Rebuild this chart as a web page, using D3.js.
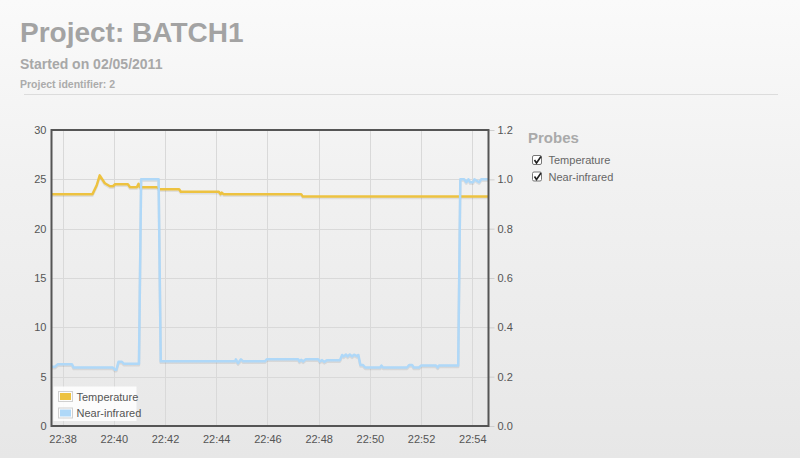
<!DOCTYPE html>
<html>
<head>
<meta charset="utf-8">
<script src="https://cdn.jsdelivr.net/npm/d3@7"></script>
<style>
  html, body { margin: 0; padding: 0; }
  body { width: 800px; height: 458px; overflow: hidden;
         background: linear-gradient(#fafafa 0%, #f1f1f1 40%, #e7e7e7 100%);
         font-family: "Helvetica Neue", Helvetica, Arial, "Liberation Sans", sans-serif; }
  svg { display: block; }
</style>
</head>
<body>
<svg id="chart" width="800" height="458"></svg>
<script>
// ---------- data ----------
const title = "Project: BATCH1";
const subtitle = "Started on 02/05/2011";
const identifier = "Project identifier: 2";
const seriesNames = ["Temperature", "Near-infrared"];
const seriesColors = ["#edc240", "#afd8f8"];

const timeDomain = ["22:37:34", "22:54:38"];
const leftTicks = [0, 5, 10, 15, 20, 25, 30];
const rightTicks = [0.0, 0.2, 0.4, 0.6, 0.8, 1.0, 1.2];

const temperatureTimes = ["22:37:34","22:39:10","22:39:20","22:39:27","22:39:39","22:39:51","22:39:58","22:40:03","22:40:33","22:40:38","22:40:54","22:40:58","22:41:01","22:41:41","22:41:48","22:42:33","22:42:37","22:44:06","22:44:10","22:44:13","22:44:17","22:47:19","22:47:23","22:54:38"];
const temperatureValues = [23.5,23.5,24.4,25.4,24.6,24.3,24.3,24.5,24.5,24.2,24.2,24.55,24.2,24.2,24.0,24.0,23.75,23.75,23.5,23.65,23.5,23.5,23.25,23.25];

const nirTimes = ["22:37:34","22:37:42","22:37:49","22:38:22","22:38:26","22:39:58","22:40:03","22:40:06","22:40:11","22:40:19","22:40:24","22:40:59","22:41:04","22:41:45","22:41:50","22:44:44","22:44:46","22:44:51","22:44:58","22:45:03","22:45:54","22:45:59","22:47:12","22:47:15","22:47:19","22:47:24","22:47:30","22:47:59","22:48:03","22:48:08","22:48:13","22:48:20","22:48:50","22:48:55","22:48:59","22:49:04","22:49:08","22:49:13","22:49:18","22:49:23","22:49:30","22:49:33","22:49:38","22:49:44","22:49:49","22:49:54","22:50:24","22:50:27","22:50:31","22:51:27","22:51:32","22:51:39","22:51:43","22:51:55","22:52:00","22:52:35","22:52:39","22:52:42","22:53:27","22:53:32","22:53:41","22:53:46","22:53:51","22:53:55","22:54:02","22:54:05","22:54:16","22:54:21","22:54:38"];
const nirValues = [0.24,0.24,0.25,0.25,0.237,0.237,0.228,0.228,0.26,0.26,0.252,0.252,1.0,1.0,0.262,0.262,0.27,0.255,0.27,0.262,0.262,0.271,0.271,0.262,0.268,0.262,0.271,0.271,0.262,0.267,0.26,0.267,0.267,0.288,0.282,0.29,0.282,0.29,0.282,0.289,0.283,0.288,0.247,0.247,0.237,0.237,0.237,0.245,0.237,0.237,0.247,0.247,0.237,0.237,0.245,0.245,0.237,0.245,0.245,1.0,1.0,0.988,1.0,0.988,0.988,1.0,0.988,1.0,1.0];

// ---------- layout ----------
const svg = d3.select("#chart");
const font = '"Helvetica Neue", Helvetica, Arial, "Liberation Sans", sans-serif';
const plot = { left: 51.5, top: 130, right: 488.5, bottom: 426 };
const parseT = s => { const [h, m, sec] = s.split(":").map(Number); return new Date(Date.UTC(2011, 4, 2, h, m, sec)); };

const x = d3.scaleUtc().domain(timeDomain.map(parseT)).range([plot.left, plot.right]);
const yL = d3.scaleLinear().domain([0, 30]).range([plot.bottom, plot.top]);
const yR = d3.scaleLinear().domain([0, 1.2]).range([plot.bottom, plot.top]);

// ---------- header ----------
svg.append("text").attr("x", 20).attr("y", 42).attr("font-family", font).attr("font-weight", "bold")
  .attr("font-size", 28).attr("fill", "#a3a3a3").text(title);
svg.append("text").attr("x", 20).attr("y", 68.5).attr("font-family", font).attr("font-weight", "bold")
  .attr("font-size", 14).attr("fill", "#a8a8a8").text(subtitle);
svg.append("text").attr("x", 20).attr("y", 87.5).attr("font-family", font).attr("font-weight", "bold")
  .attr("font-size", 10.5).attr("fill", "#ababab").text(identifier);
svg.append("line").attr("x1", 24).attr("x2", 778).attr("y1", 94.5).attr("y2", 94.5)
  .attr("stroke", "#dcdcdc").attr("stroke-width", 1);

// ---------- grid ----------
const timeTicks = d3.utcMinute.every(2).range(parseT("22:38:00"), parseT("22:55:00"));
const grid = svg.append("g");
grid.selectAll(".vg").data(timeTicks).join("line")
  .attr("x1", d => Math.round(x(d)) + 0.5).attr("x2", d => Math.round(x(d)) + 0.5)
  .attr("y1", plot.top).attr("y2", plot.bottom).attr("stroke", "#d9d9d9");
grid.selectAll(".hg").data(leftTicks).join("line")
  .attr("x1", plot.left).attr("x2", plot.right)
  .attr("y1", d => Math.round(yL(d)) + 0.5).attr("y2", d => Math.round(yL(d)) + 0.5).attr("stroke", "#d9d9d9");

// ---------- axes ----------
const axisStyle = g => {
  g.select(".domain").remove();
  g.selectAll("text").attr("font-family", font).attr("font-size", 11).attr("fill", "#555");
};
svg.append("g").attr("transform", `translate(0,${plot.bottom})`)
  .call(d3.axisBottom(x).tickValues(timeTicks).tickFormat(d3.utcFormat("%H:%M")).tickSize(0).tickPadding(9))
  .call(axisStyle);
svg.append("g").attr("transform", `translate(${plot.left},0)`)
  .call(d3.axisLeft(yL).tickValues(leftTicks).tickFormat(d3.format("d")).tickSize(0).tickPadding(5))
  .call(axisStyle);
svg.append("g").attr("transform", `translate(${plot.right},0)`)
  .call(d3.axisRight(yR).tickValues(rightTicks).tickFormat(d3.format(".1f")).tickSize(6).tickPadding(3))
  .call(axisStyle)
  .call(g => g.selectAll("line").attr("stroke", "#cfcfcf"));

// ---------- lines ----------
svg.append("clipPath").attr("id", "clip").append("rect")
  .attr("x", plot.left).attr("y", plot.top).attr("width", plot.right - plot.left).attr("height", plot.bottom - plot.top);
const lines = svg.append("g").attr("clip-path", "url(#clip)");

const tempData = temperatureTimes.map((t, i) => ({ t: parseT(t), v: temperatureValues[i] }));
const nirData = nirTimes.map((t, i) => ({ t: parseT(t), v: nirValues[i] }));
const lineL = d3.line().x(d => x(d.t)).y(d => yL(d.v));
const lineR = d3.line().x(d => x(d.t)).y(d => yR(d.v));

[[tempData, lineL, seriesColors[0]], [nirData, lineR, seriesColors[1]]].forEach(([data, gen, col]) => {
  lines.append("path").datum(data).attr("d", gen).attr("fill", "none")
    .attr("stroke", "rgba(0,0,0,0.08)").attr("stroke-width", 2.5).attr("transform", "translate(0,1.5)")
    .attr("stroke-linejoin", "round");
  lines.append("path").datum(data).attr("d", gen).attr("fill", "none")
    .attr("stroke", col).attr("stroke-width", 2.5).attr("stroke-linejoin", "round");
});

// ---------- border ----------
svg.append("rect").attr("x", plot.left).attr("y", plot.top)
  .attr("width", plot.right - plot.left).attr("height", plot.bottom - plot.top)
  .attr("fill", "none").attr("stroke", "#555").attr("stroke-width", 2);

// ---------- in-plot legend ----------
const leg = svg.append("g");
leg.append("rect").attr("x", 53.5).attr("y", 386.5).attr("width", 83).attr("height", 34.5)
  .attr("fill", "rgba(255,255,255,0.85)");
seriesNames.forEach((name, i) => {
  const yy = 391 + i * 16.5;
  leg.append("rect").attr("x", 58.5).attr("y", yy + 0.5).attr("width", 14).attr("height", 10)
    .attr("fill", "none").attr("stroke", "#d0d0d0");
  leg.append("rect").attr("x", 60).attr("y", yy + 2).attr("width", 11).attr("height", 7)
    .attr("fill", seriesColors[i]);
  leg.append("text").attr("x", 76.5).attr("y", yy + 9.5).attr("font-family", font).attr("font-size", 11)
    .attr("fill", "#555").text(name);
});

// ---------- Probes panel ----------
svg.append("text").attr("x", 528).attr("y", 142.5).attr("font-family", font).attr("font-weight", "bold")
  .attr("font-size", 15).attr("fill", "#aaa").text("Probes");
seriesNames.forEach((name, i) => {
  const yy = 155.5 + i * 16.5;
  svg.append("rect").attr("x", 532.5).attr("y", yy).attr("width", 9).attr("height", 9).attr("rx", 1.5)
    .attr("fill", "#fff").attr("stroke", "#777");
  svg.append("path").attr("d", `M${534.5},${yy + 4.5} L${536.5},${yy + 7.5} L${541},${yy + 1}`)
    .attr("fill", "none").attr("stroke", "#222").attr("stroke-width", 1.6);
  svg.append("text").attr("x", 548.5).attr("y", yy + 8.5).attr("font-family", font).attr("font-size", 11)
    .attr("fill", "#666").text(name);
});
</script>
</body>
</html>
